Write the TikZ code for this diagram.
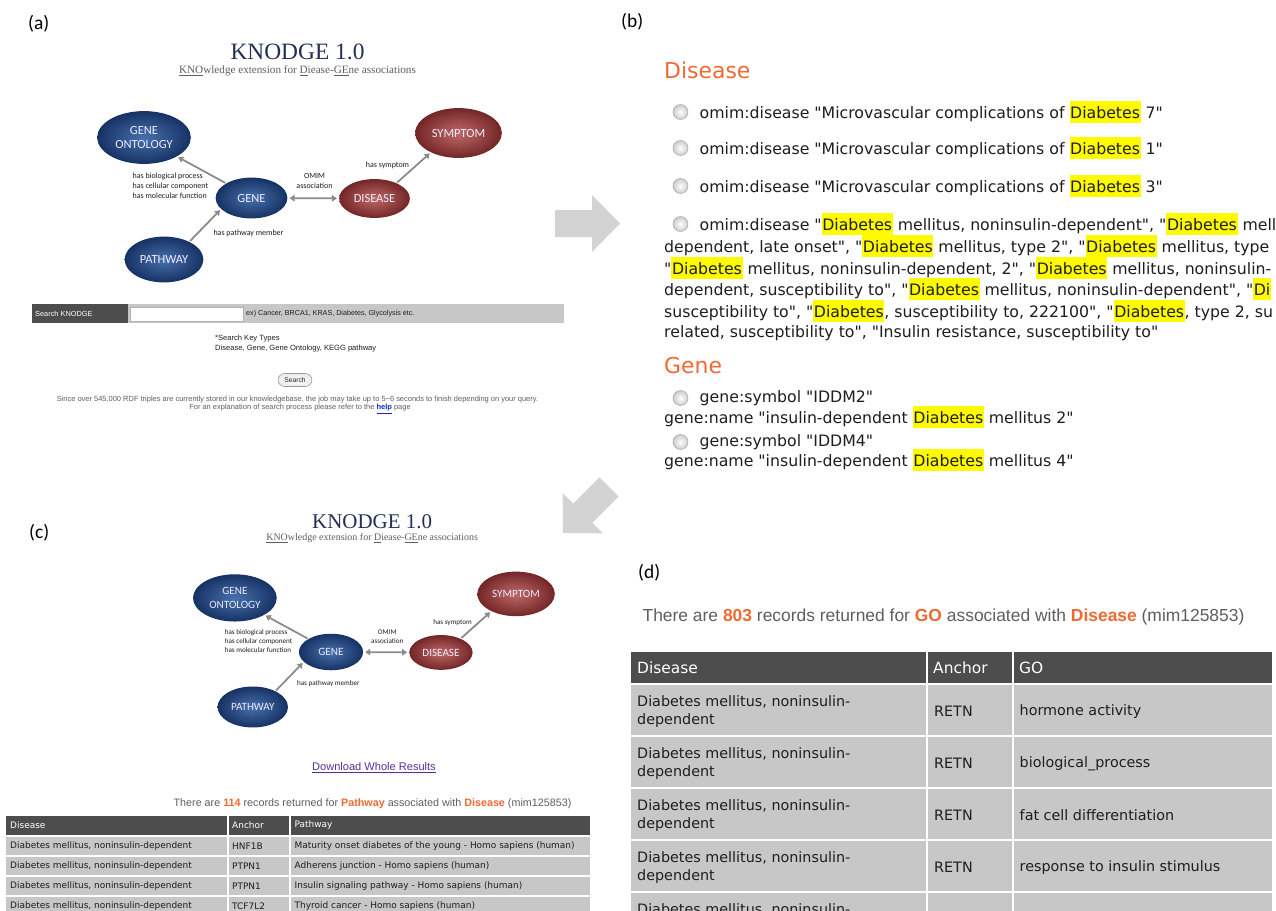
\documentclass[tikz,border=0pt]{standalone}
\usepackage{fontspec}
\setmainfont{Liberation Serif}
\newfontfamily\calfont{Carlito}
\newfontfamily\verd{DejaVu Sans}
\newfontfamily\arl{Liberation Sans}
\usetikzlibrary{shapes.geometric,arrows.meta}

\definecolor{orng}{RGB}{238,106,52}
\definecolor{hly}{RGB}{255,250,0}
\definecolor{hdrg}{RGB}{77,77,77}
\definecolor{rowg}{RGB}{199,199,199}
\definecolor{navy}{RGB}{35,48,88}
\definecolor{bluein}{RGB}{72,112,172}
\definecolor{blueout}{RGB}{22,50,100}
\definecolor{redin}{RGB}{192,105,105}
\definecolor{redout}{RGB}{115,38,38}
\definecolor{bigarr}{RGB}{211,211,211}
\definecolor{txtg}{RGB}{95,95,95}
\definecolor{dtxt}{RGB}{30,30,30}
\definecolor{linkp}{RGB}{85,50,150}
\definecolor{linkb}{RGB}{20,40,200}
\definecolor{edgeg}{RGB}{140,140,140}

\newcommand\hlt[1]{{\setlength\fboxsep{0.6pt}\colorbox{hly}{\rule[-0.24em]{0pt}{1.27em}#1}}}

\newcommand\knodgegraph[1]{%
  \node[ktitle] (#1title) at (46,-146) {KNODGE 1.0};
  \node[ksub] (#1sub) at (46,-127) {\underline{KNO}wledge extension for \underline{D}iease-\underline{GE}ne associations};
  \node[bell, minimum width=94, minimum height=53] (#1go) at (-107.5,-60.5) {GENE\\ONTOLOGY};
  \node[rell, minimum width=87, minimum height=50] (#1sym) at (207,-65) {SYMPTOM};
  \node[bell, minimum width=72, minimum height=41] (#1gene) at (0,0) {GENE};
  \node[rell, minimum width=71, minimum height=39] (#1dis) at (123,0.5) {DISEASE};
  \node[bell, minimum width=79, minimum height=46] (#1pw) at (-87.5,61.5) {PATHWAY};
  \draw[garr] (#1gene.150) -- (#1go.330);
  \draw[garr] (#1pw.35) -- (#1gene.200);
  \draw[garr2] (#1gene) -- (#1dis);
  \draw[garr] (#1dis.35) -- (#1sym.215);
  \node[elab, align=left, anchor=west] (#1l1) at (-119,-12) {has biological process\\has cellular component\\has molecular function};
  \node[elab, align=center] (#1l2) at (63,-17.5) {OMIM\\association};
  \node[elab] (#1l3) at (136,-33) {has symptom};
  \node[elab] (#1l4) at (-3,35) {has pathway member};
}

\begin{document}
\begin{tikzpicture}[x=1bp, y=-1bp,
  plab/.style={inner sep=0, anchor=west, font=\calfont\fontsize{19.5}{22}\selectfont},
  ktitle/.style={inner sep=0, font=\fontsize{23.5}{26}\selectfont, text=navy},
  ksub/.style={inner sep=0, font=\fontsize{11.2}{13}\selectfont, text=txtg},
  bell/.style={ellipse, inner sep=0, inner color=bluein, outer color=blueout, font=\calfont\fontsize{12.5}{15}\selectfont, text=white!92!blue, align=center},
  rell/.style={bell, inner color=redin, outer color=redout},
  elab/.style={inner sep=0, font=\calfont\fontsize{8}{10}\selectfont, text=dtxt},
  garr/.style={draw=edgeg, line width=1.8pt, -{Triangle[length=5pt,width=6.5pt]}, shorten >=1.5pt, shorten <=1pt},
  garr2/.style={draw=edgeg, line width=1.8pt, {Triangle[length=5pt,width=6.5pt]}-{Triangle[length=5pt,width=6.5pt]}, shorten >=2pt, shorten <=2pt},
  atxt/.style={inner sep=0, anchor=west, font=\arl\fontsize{#1}{#1}\selectfont, text=dtxt},
  btxt/.style={inner sep=0, anchor=west, font=\verd\fontsize{15.8}{18}\selectfont, text=dtxt},
  hd/.style={inner sep=0, anchor=west, font=\verd\fontsize{22}{24}\selectfont, text=orng},
  radio/.style={circle, minimum size=15, inner sep=0, draw=gray!60, line width=0.7pt, inner color=white, outer color=gray!40},
  ctxt/.style={inner sep=0, anchor=west, font=\verd\fontsize{9}{10}\selectfont, text=dtxt},
  dtx/.style={inner sep=0, anchor=west, font=\verd\fontsize{14.4}{19}\selectfont, text=dtxt, align=left},
  dhd/.style={inner sep=0, anchor=west, font=\verd\fontsize{15.5}{18}\selectfont, text=white},
  bigarrow/.style={fill=bigarr, draw=none}
]
\useasboundingbox (0,0) rectangle (1276,911);
\fill[white] (0,0) rectangle (1276,911);
\begin{scope}
\clip (0,0) rectangle (1276,911);

% ---------------- panel labels
\node[plab] (la) at (28,24) {(a)};
\node[plab] (lb) at (621,22) {(b)};
\node[plab] (lc) at (29,533) {(c)};
\node[plab] (ld) at (638,573) {(d)};

% ---------------- (a)
\begin{scope}[shift={(251.5,198)}]
  \knodgegraph{a}
\end{scope}

\fill[hdrg] (32,304) rectangle (128,323);
\node[atxt=7.4, text=white] (sk) at (35,313.5) {Search KNODGE};
\fill[rowg] (128,304) rectangle (564,323);
\filldraw[fill=white, draw=gray!60, line width=0.4pt] (130,307) rectangle (243,321);
\node[atxt=7.2] (ex) at (246,313.5) {ex) Cancer, BRCA1, KRAS, Diabetes, Glycolysis etc.};
\node[atxt=7.6] (skt1) at (215,339) {*Search Key Types};
\node[atxt=7.6] (skt2) at (215,349) {Disease, Gene, Gene Ontology, KEGG pathway};
\node[draw=gray!80, line width=0.6pt, rounded corners=6.5, minimum width=34, minimum height=13, inner sep=0,
      inner color=white, outer color=gray!15, font=\arl\fontsize{6.8}{7}\selectfont, text=dtxt] (sbtn) at (295,380) {Search};
\node[atxt=7.5, anchor=center, text=txtg] (since) at (297.5,400) {Since over 545,000 RDF triples are currently stored in our knowledgebase, the job may take up to 5\textasciitilde 6 seconds to finish depending on your query.};
\node[atxt=7.5, anchor=center, text=txtg] (forexp) at (300,409) {For an explanation of search process please refer to the \textcolor{linkb}{\underline{\textbf{help}}} page};

% big arrows
\fill[bigarrow] (555,210) -- (592,210) -- (592,195) -- (620,223.5) -- (592,252) -- (592,237) -- (555,237) -- cycle;
\fill[bigarrow] (573.2,503.6) -- (599.4,477.4) -- (618.5,496.5) -- (592.3,522.7) -- (602.95,533.35) -- (563,533) -- (562.65,493.05) -- cycle;

% ---------------- (b)
\node[hd] (bdis) at (664,70) {Disease};
\node[radio] (r1) at (680.5,112) {};
\node[btxt] (t1) at (699.5,112) {omim:disease "Microvascular complications of \hlt{Diabetes} 7"};
\node[radio] (r2) at (680.5,148) {};
\node[btxt] (t2) at (699.5,148) {omim:disease "Microvascular complications of \hlt{Diabetes} 1"};
\node[radio] (r3) at (680.5,186) {};
\node[btxt] (t3) at (699.5,186) {omim:disease "Microvascular complications of \hlt{Diabetes} 3"};
\node[radio] (r4) at (680.5,224) {};
\node[btxt] (t4a) at (699.5,224) {omim:disease "\hlt{Diabetes} mellitus, noninsulin-dependent", "\hlt{Diabetes} mell};
\node[btxt] (t4b) at (664,246) {dependent, late onset", "\hlt{Diabetes} mellitus, type 2", "\hlt{Diabetes} mellitus, type};
\node[btxt] (t4c) at (664,268) {"\hlt{Diabetes} mellitus, noninsulin-dependent, 2", "\hlt{Diabetes} mellitus, noninsulin-};
\node[btxt] (t4d) at (664,289) {dependent, susceptibility to", "\hlt{Diabetes} mellitus, noninsulin-dependent", "\hlt{Di}};
\node[btxt] (t4e) at (664,311) {susceptibility to", "\hlt{Diabetes}, susceptibility to, 222100", "\hlt{Diabetes}, type 2, su};
\node[btxt] (t4f) at (664,333) {related, susceptibility to", "Insulin resistance, susceptibility to"};

\node[hd] (bgene) at (664,366) {Gene};
\node[radio] (g1) at (680.5,398) {};
\node[btxt] (g1s) at (699.5,398) {gene:symbol "IDDM2"};
\node[btxt] (g1n) at (664,417) {gene:name "insulin-dependent \hlt{Diabetes} mellitus 2"};
\node[radio] (g2) at (680.5,442) {};
\node[btxt] (g2s) at (699.5,442) {gene:symbol "IDDM4"};
\node[btxt] (g2n) at (664,460) {gene:name "insulin-dependent \hlt{Diabetes} mellitus 4"};

% ---------------- (c)
\begin{scope}[shift={(331,652)}, scale=0.894, transform shape]
  \knodgegraph{c}
\end{scope}
\node[atxt=11.1, anchor=center, text=linkp] (dl) at (374,768) {\underline{Download Whole Results}};
\node[atxt=10.8, anchor=center, text=txtg] (c114) at (372.5,804) {There are \textcolor{orng}{\textbf{114}} records returned for \textcolor{orng}{\textbf{Pathway}} associated with \textcolor{orng}{\textbf{Disease}} (mim125853)};

\fill[hdrg] (6,816) rectangle (227,835);
\fill[hdrg] (229,816) rectangle (289,835);
\fill[hdrg] (291,816) rectangle (590,835);
\node[ctxt, text=white] (ch1) at (10,825.5) {Disease};
\node[ctxt, text=white] (ch2) at (232,825.5) {Anchor};
\node[ctxt, text=white] (ch3) at (294.5,825.5) {Pathway};
\foreach \k/\anc/\pw in {1/HNF1B/Maturity onset diabetes of the young - Homo sapiens (human),
                          2/PTPN1/Adherens junction - Homo sapiens (human),
                          3/PTPN1/Insulin signaling pathway - Homo sapiens (human),
                          4/TCF7L2/Thyroid cancer - Homo sapiens (human)} {
  \pgfmathsetmacro\rt{817+20*\k}
  \pgfmathsetmacro\rb{\rt+18}
  \pgfmathsetmacro\rc{\rt+9}
  \fill[rowg] (6,\rt) rectangle (227,\rb);
  \fill[rowg] (229,\rt) rectangle (289,\rb);
  \fill[rowg] (291,\rt) rectangle (590,\rb);
  \node[ctxt] (cr\k a) at (10,\rc) {Diabetes mellitus, noninsulin-dependent};
  \node[ctxt] (cr\k b) at (232,\rc) {\anc};
  \node[ctxt] (cr\k c) at (294.5,\rc) {\pw};
}

% ---------------- (d)
\node[atxt=17.5, anchor=center, text=txtg] (d803) at (943.5,617) {There are \textcolor{orng}{\textbf{803}} records returned for \textcolor{orng}{\textbf{GO}} associated with \textcolor{orng}{\textbf{Disease}} (mim125853)};
\fill[hdrg] (631,652) rectangle (926,683);
\fill[hdrg] (928,652) rectangle (1012,683);
\fill[hdrg] (1014,652) rectangle (1272,683);
\node[dhd] (dh1) at (637,668) {Disease};
\node[dhd] (dh2) at (933,668) {Anchor};
\node[dhd] (dh3) at (1019,668) {GO};
\foreach \k/\go in {0/hormone activity, 1/biological\_process, 2/fat cell differentiation, 3/response to insulin stimulus, 4/{}} {
  \pgfmathsetmacro\rt{685+52*\k}
  \pgfmathsetmacro\rb{\rt+50}
  \pgfmathsetmacro\rc{\rt+26.5}
  \fill[rowg] (631,\rt) rectangle (926,\rb);
  \fill[rowg] (928,\rt) rectangle (1012,\rb);
  \fill[rowg] (1014,\rt) rectangle (1272,\rb);
  \node[dtx] (dr\k a) at (637,\rc) {Diabetes mellitus, noninsulin-\\dependent};
  \ifnum\k<4
    \node[dtx] (dr\k b) at (934,\rc) {RETN};
    \node[dtx] (dr\k c) at (1019.5,\rc) {\go};
  \fi
}
\end{scope}
\end{tikzpicture}
\end{document}
